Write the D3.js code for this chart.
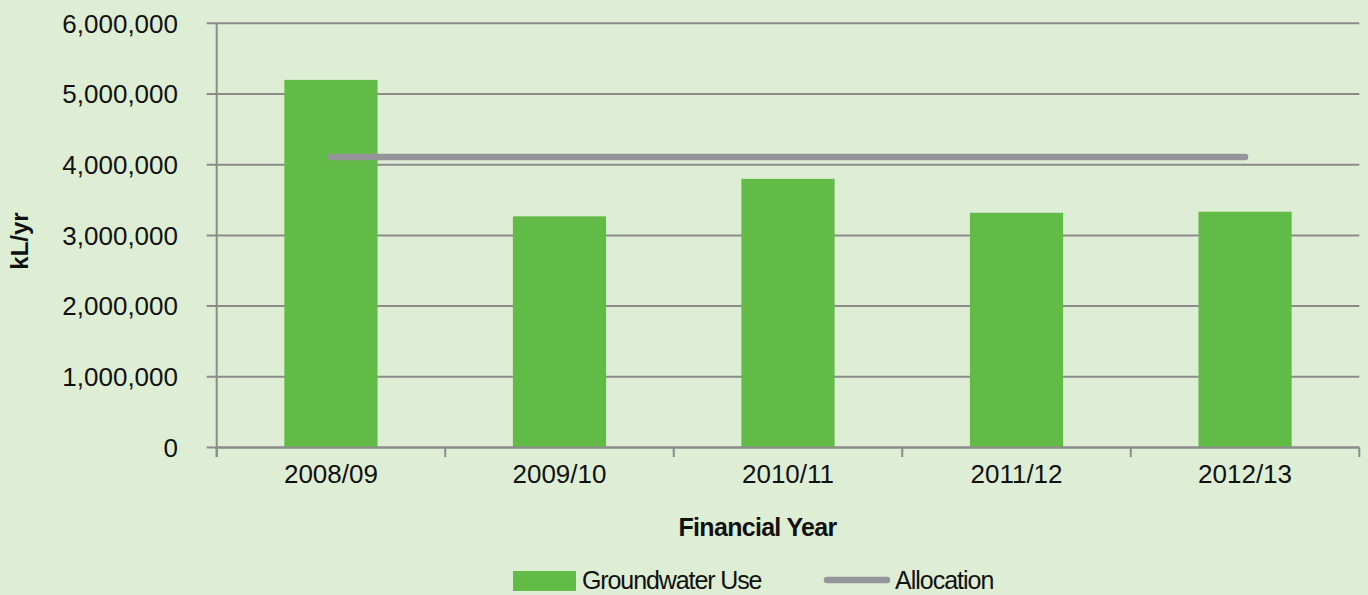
<!DOCTYPE html>
<html>
<head>
<meta charset="utf-8">
<script src="https://cdn.jsdelivr.net/npm/d3@7"></script>
<style>
  html, body { margin: 0; padding: 0; background: #deeed5; }
  svg { display: block; }
  text { font-family: "Liberation Sans", Arial, Helvetica, sans-serif; fill: #111; }
</style>
</head>
<body>
<svg id="chart" width="1368" height="595"></svg>
<script>
const categories = ["2008/09", "2009/10", "2010/11", "2011/12", "2012/13"];
const groundwaterUse = [5200000, 3270000, 3800000, 3320000, 3335000];
const allocation = [4110000, 4110000, 4110000, 4110000, 4110000];
const yTicks = [0, 1000000, 2000000, 3000000, 4000000, 5000000, 6000000];
const seriesNames = ["Groundwater Use", "Allocation"];

const W = 1368, H = 595;
const margin = { left: 216.7, right: 8.7, top: 23.3, bottom: 147.5 };
const svg = d3.select("#chart");
svg.append("rect").attr("width", W).attr("height", H).attr("fill", "#deeed5");

const x = d3.scaleBand().domain(categories).range([margin.left, W - margin.right]).paddingInner(0).paddingOuter(0);
const y = d3.scaleLinear().domain([0, 6000000]).range([H - margin.bottom, margin.top]);
const gridColor = "#8b8b8b";
const fmt = d3.format(",");

// gridlines + y tick marks
const g = svg.append("g");
g.selectAll("line.grid").data(yTicks).join("line")
  .attr("x1", margin.left - 10).attr("x2", W - margin.right)
  .attr("y1", d => y(d)).attr("y2", d => y(d))
  .attr("stroke", gridColor).attr("stroke-width", 2);

// y labels
g.selectAll("text.ylab").data(yTicks).join("text")
  .attr("x", 178).attr("y", d => y(d)).attr("dy", "0.36em")
  .attr("text-anchor", "end").attr("font-size", 26)
  .text(d => fmt(d));

// bars
svg.append("g").selectAll("rect").data(categories).join("rect")
  .attr("x", d => x(d) + x.bandwidth() * 0.296)
  .attr("width", x.bandwidth() * 0.408)
  .attr("y", (d, i) => y(groundwaterUse[i]))
  .attr("height", (d, i) => y(0) - y(groundwaterUse[i]))
  .attr("fill", "#62bb47");

// x axis line and ticks
svg.append("line")
  .attr("x1", margin.left).attr("x2", W - margin.right)
  .attr("y1", y(0)).attr("y2", y(0))
  .attr("stroke", gridColor).attr("stroke-width", 2);
const bounds = categories.map(c => x(c)).concat([W - margin.right]);
svg.append("g").selectAll("line").data(bounds).join("line")
  .attr("x1", d => d).attr("x2", d => d)
  .attr("y1", y(0)).attr("y2", y(0) + 9.5)
  .attr("stroke", gridColor).attr("stroke-width", 2);
// y axis line
svg.append("line")
  .attr("x1", margin.left).attr("x2", margin.left)
  .attr("y1", margin.top).attr("y2", y(0) + 9.5)
  .attr("stroke", gridColor).attr("stroke-width", 2);

// allocation line
const line = d3.line().x((d, i) => x(categories[i]) + x.bandwidth() / 2).y(d => y(d));
svg.append("path").datum(allocation)
  .attr("d", line).attr("fill", "none")
  .attr("stroke", "#939598").attr("stroke-width", 6.5).attr("stroke-linecap", "round");

// x labels
svg.append("g").selectAll("text").data(categories).join("text")
  .attr("x", d => x(d) + x.bandwidth() / 2).attr("y", 483)
  .attr("text-anchor", "middle").attr("font-size", 26)
  .text(d => d);

// axis titles
svg.append("text")
  .attr("x", 757.5).attr("y", 536)
  .attr("text-anchor", "middle").attr("font-size", 25).attr("font-weight", "bold")
  .attr("letter-spacing", "-0.7")
  .text("Financial Year");
svg.append("text")
  .attr("transform", "translate(28,241) rotate(-90)")
  .attr("text-anchor", "middle").attr("font-size", 24).attr("font-weight", "bold")
  .text("kL/yr");

// legend
const leg = svg.append("g");
leg.append("rect").attr("x", 513).attr("y", 571).attr("width", 63).attr("height", 20).attr("fill", "#62bb47");
leg.append("text").attr("x", 582).attr("y", 589).attr("font-size", 25).attr("letter-spacing", "-1.1").text(seriesNames[0]);
leg.append("line").attr("x1", 827).attr("x2", 887).attr("y1", 580).attr("y2", 580)
  .attr("stroke", "#939598").attr("stroke-width", 6.5).attr("stroke-linecap", "round");
leg.append("text").attr("x", 895).attr("y", 589).attr("font-size", 25).attr("letter-spacing", "-1").text(seriesNames[1]);
</script>
</body>
</html>
